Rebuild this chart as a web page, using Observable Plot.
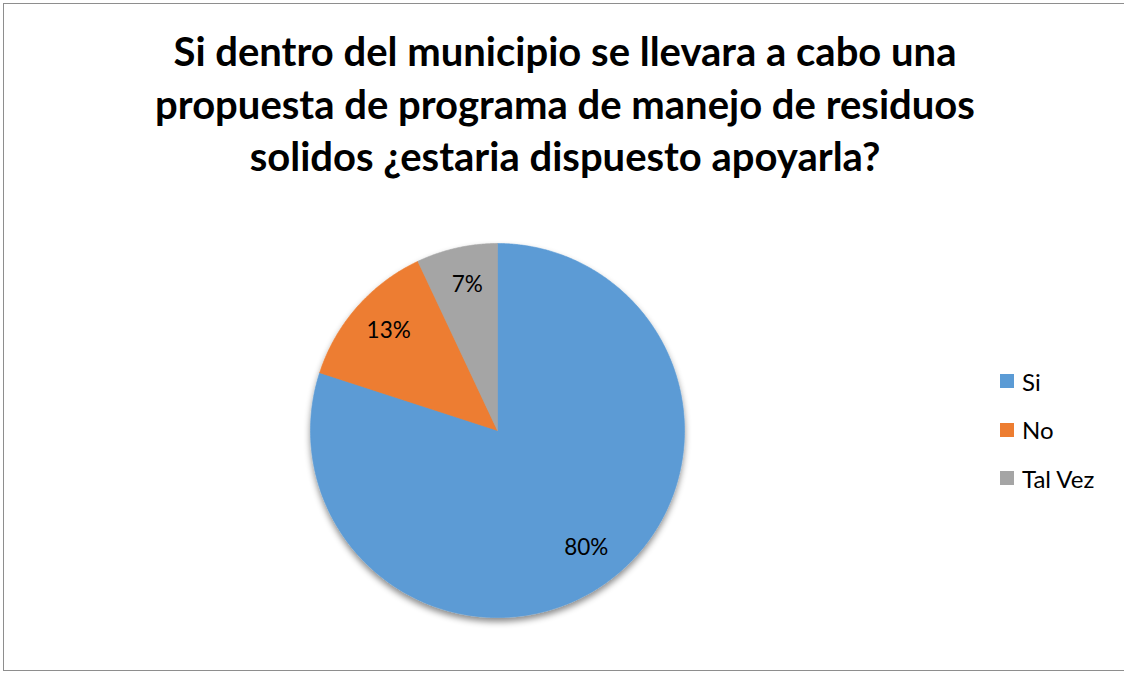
<!DOCTYPE html>
<html>
<head>
<meta charset="utf-8">
<script src="https://cdn.jsdelivr.net/npm/d3@7"></script>
<script src="https://cdn.jsdelivr.net/npm/@observablehq/plot@0.6"></script>
<style>
  html, body { margin: 0; padding: 0; background: #fff; }
  #wrap { position: relative; width: 1124px; height: 675px; overflow: hidden; font-family: Lato, "Open Sans", sans-serif; }
  #frame { position: absolute; left: 3px; top: 3px; width: 1130px; height: 668px; border: 1px solid #8e8e8e; box-sizing: border-box; }
  #title { position: absolute; left: 0; top: 25px; width: 1130px; text-align: center; font-weight: 700; font-size: 40px; line-height: 52.5px; color: #000; }
  #chart { position: absolute; left: 0; top: 0; }
  #legend { position: absolute; left: 1000px; top: 357px; font-size: 24px; color: #000; }
  .item { display: flex; align-items: center; height: 48.5px; }
  .sw { width: 14px; height: 14px; margin-right: 8px; }
</style>
</head>
<body>
<div id="wrap">
  <div id="frame"></div>
  <div id="chart"></div>
  <div id="title"></div>
  <div id="legend"></div>
</div>
<script>
const titleLines = [
  "Si dentro del municipio se llevara a cabo una",
  "propuesta de programa de manejo de residuos",
  "solidos ¿estaria dispuesto apoyarla?"
];
const categories = ["Si", "No", "Tal Vez"];
const values = [80, 13, 7];
const labels = ["80%", "13%", "7%"];
const colors = ["#5B9BD5", "#ED7D31", "#A5A5A5"];

document.getElementById("title").innerHTML = titleLines.join("<br>");

const arcs = d3.pie().sort(null).value(d => d)(values);
const slicePts = [];
const labelPts = [];
arcs.forEach((a, i) => {
  const cat = categories[i];
  slicePts.push({x: 0, y: 0, cat});
  const n = Math.max(2, Math.ceil((a.endAngle - a.startAngle) / (Math.PI / 360)));
  for (let k = 0; k <= n; k++) {
    const t = a.startAngle + (a.endAngle - a.startAngle) * k / n;
    slicePts.push({x: Math.sin(t), y: Math.cos(t), cat});
  }
  slicePts.push({x: 0, y: 0, cat});
  const m = (a.startAngle + a.endAngle) / 2;
  const r = 0.79;
  labelPts.push({x: r * Math.sin(m), y: r * Math.cos(m), text: labels[i]});
});

const plot = Plot.plot({
  width: 1124,
  height: 675,
  marginLeft: 310,
  marginRight: 440,
  marginTop: 243,
  marginBottom: 58,
  x: {domain: [-1, 1], axis: null},
  y: {domain: [-1, 1], axis: null},
  color: {domain: categories, range: colors},
  style: {background: "transparent", fontFamily: "Lato, 'Open Sans', sans-serif"},
  marks: [
    Plot.line(slicePts, {x: "x", y: "y", z: "cat", fill: "cat", stroke: "cat", strokeWidth: 0.6, curve: "linear"}),
    Plot.text(labelPts, {x: "x", y: "y", text: "text", fontSize: 22.5, fill: "#000", dx: 2, dy: -2})
  ]
});

const svg = d3.select(plot);
const defs = svg.insert("defs", ":first-child");
const f = defs.append("filter").attr("id", "shadow").attr("x", "-20%").attr("y", "-20%").attr("width", "140%").attr("height", "140%");
f.append("feDropShadow").attr("dx", 0).attr("dy", 4).attr("stdDeviation", 3).attr("flood-color", "#000").attr("flood-opacity", 0.45);
svg.select('g[aria-label="line"]').attr("filter", "url(#shadow)");

document.getElementById("chart").appendChild(plot);

const legend = d3.select("#legend");
categories.forEach((c, i) => {
  const it = legend.append("div").attr("class", "item");
  it.append("div").attr("class", "sw").style("background", colors[i]);
  it.append("span").text(c);
});
</script>
</body>
</html>
